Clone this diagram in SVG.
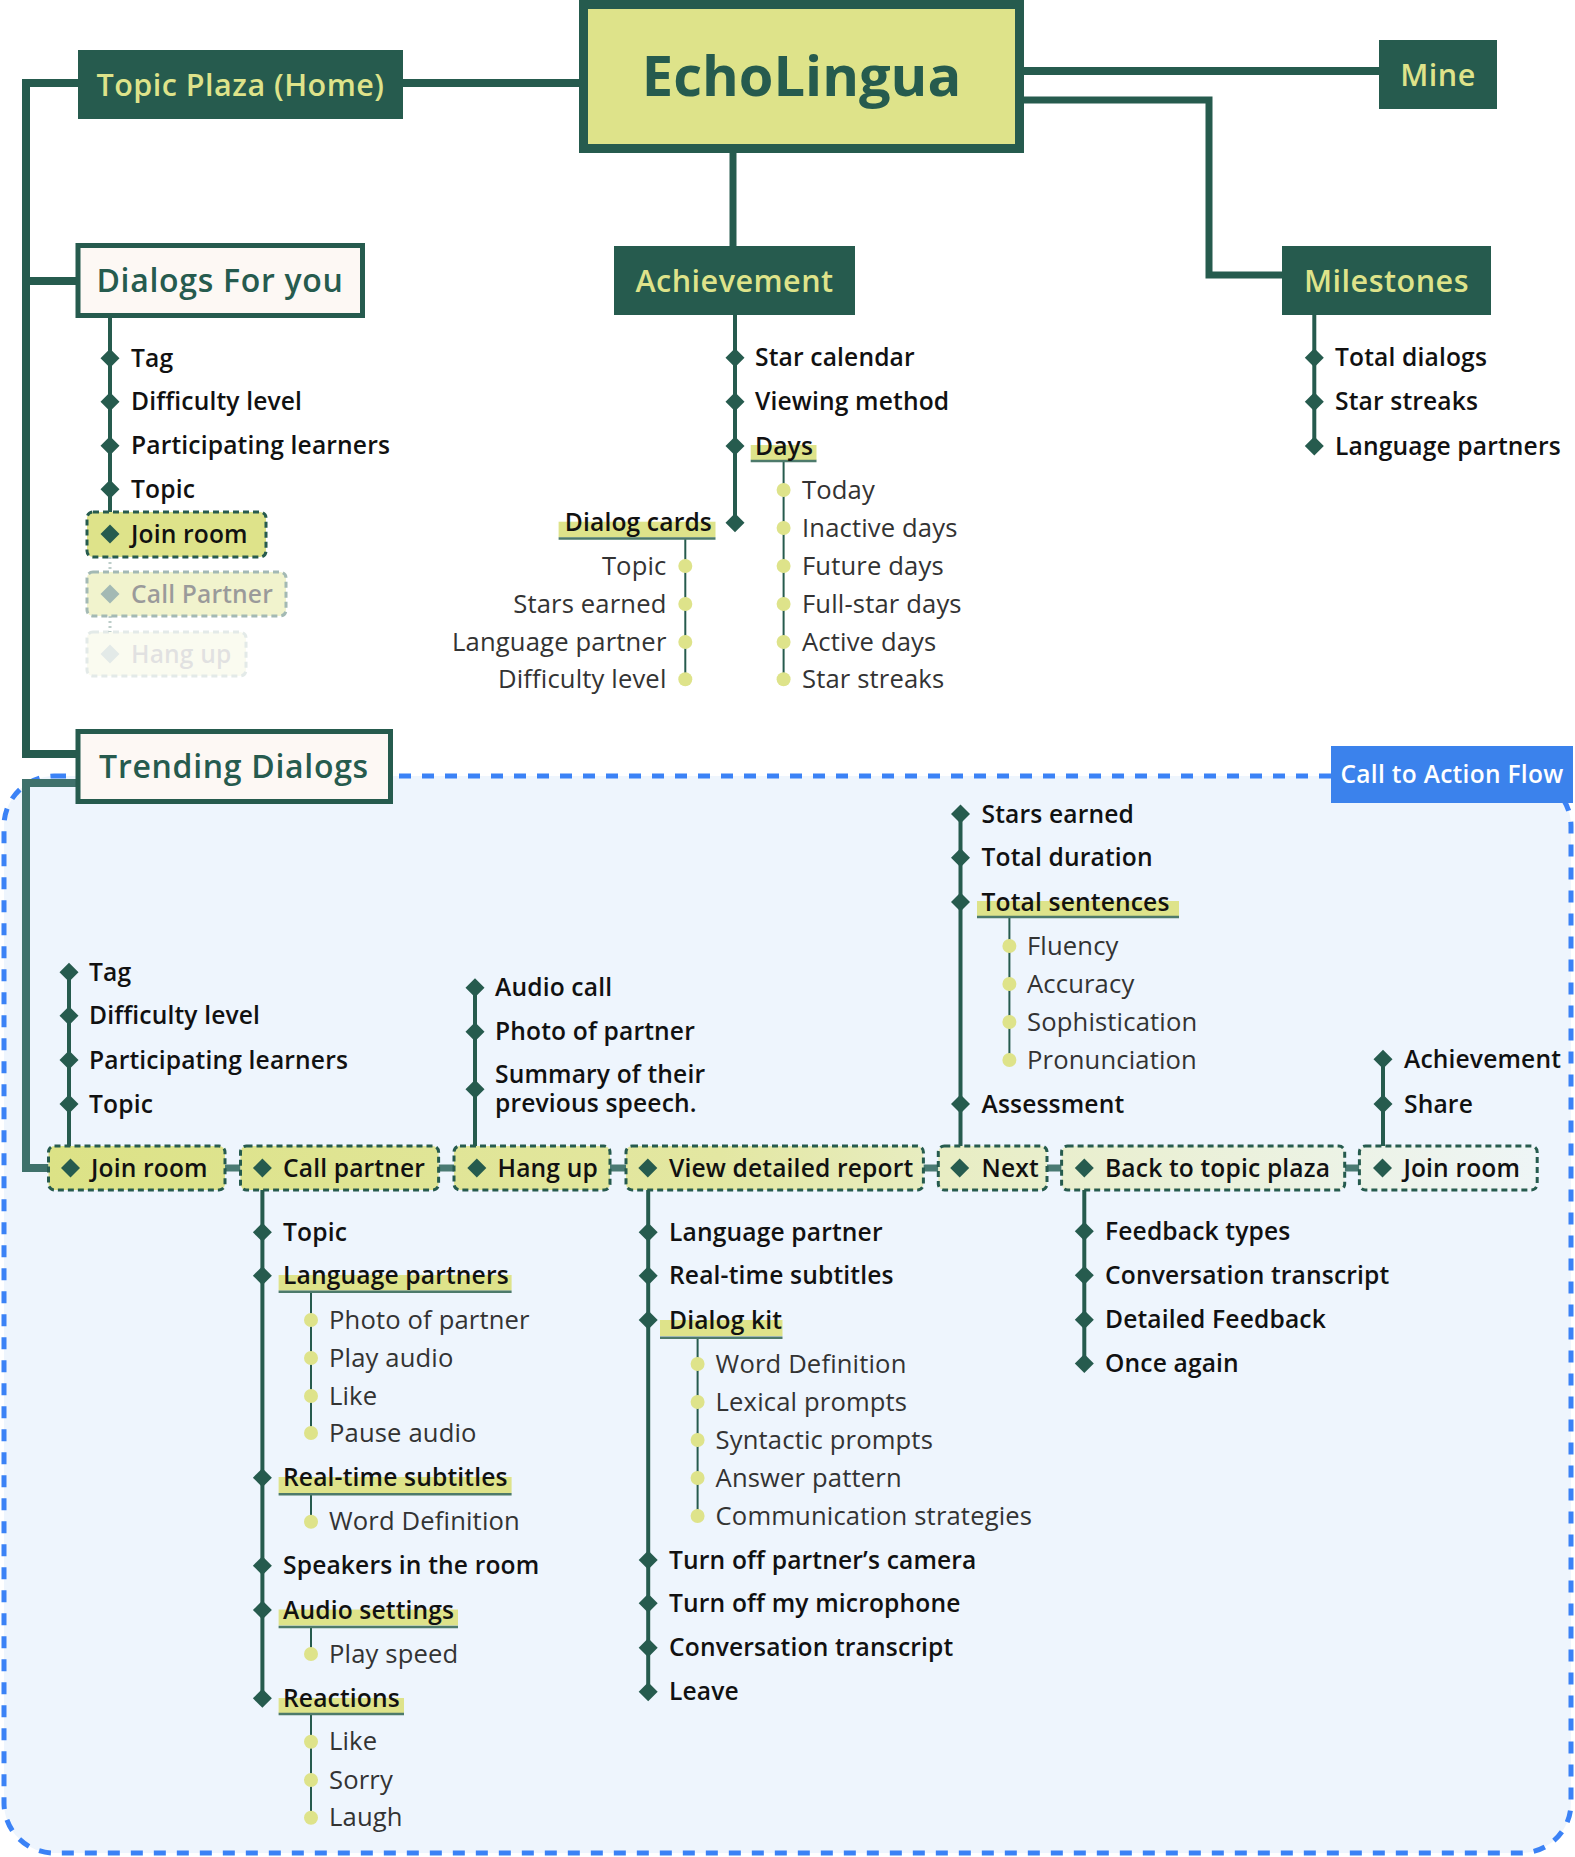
<svg xmlns="http://www.w3.org/2000/svg" width="1575" height="1857" viewBox="0 0 1575 1857">
<defs>
<style>
.b{font-family:"Open Sans","Noto Sans",sans-serif;font-weight:600;font-size:24.6px;letter-spacing:0.15px;fill:#111}
.r{font-family:"Open Sans","Noto Sans",sans-serif;font-weight:400;font-size:25.6px;letter-spacing:0.15px;fill:#333}
.e{text-anchor:end}
.hy{font-family:"Open Sans","Noto Sans",sans-serif;font-weight:600;font-size:30.5px;letter-spacing:0.5px;fill:#DEE38A;text-anchor:middle}
.hg{font-family:"Open Sans","Noto Sans",sans-serif;font-weight:600;font-size:32px;letter-spacing:0.7px;fill:#265B4E;text-anchor:middle}
.ln{stroke:#265B4E;fill:none}
.main{stroke-width:8}
.tr{stroke-width:4}
.sb{stroke-width:2}
.dk{fill:#265B4E}
.cr{fill:#FDF8F4;stroke:#265B4E;stroke-width:5}
.dot{fill:#DEE38A}
.hl{fill:#DEE38A}
.ul{stroke:#4D7A6B;stroke-width:2.5}
.fb{fill:url(#rowg);stroke:#265B4E;stroke-width:3;stroke-dasharray:6 4}
.con{fill:#4A7A73}
</style>
<path id="dm" d="M0,-9.5L9.5,0L0,9.5L-9.5,0Z" fill="#265B4E"/>
<linearGradient id="rowg" gradientUnits="userSpaceOnUse" x1="48" y1="0" x2="1540" y2="0">
<stop offset="0" stop-color="#DCE286"/>
<stop offset="0.45" stop-color="#E3E7A2"/>
<stop offset="0.6" stop-color="#E8EDC3"/>
<stop offset="1" stop-color="#EEF5F6"/>
</linearGradient>
</defs>
<rect width="1575" height="1857" fill="#FFFFFF"/>
<rect id="cta-region" x="4" y="776" width="1567" height="1077" rx="50" fill="#EEF5FD" stroke="#3B82F6" stroke-width="5" stroke-dasharray="12 11"/>

<g id="connectors">
<path class="ln main" d="M78,83 H26 V754 H78"/>
<path class="ln main" d="M26,281 H78"/>
<path class="ln main" d="M403,83 H579"/>
<path class="ln main" d="M1024,71 H1379"/>
<path class="ln" stroke-width="7" d="M1024,100 H1209 V275 H1282"/>
<path class="ln" stroke-width="7" d="M733,153 V246"/>
<path d="M78,783 H26 V1168 H48.5" fill="none" stroke="#3F716B" stroke-width="8"/>
<path class="ln tr" d="M110,318 V534"/>
<path d="M110,557 V572 M110,616 V632" stroke="#265B4E" stroke-width="3" stroke-dasharray="2 3" opacity="0.3"/>
<path class="ln tr" d="M735,315 V522.7"/>
<path class="ln sb" d="M783.6,461 V679.3"/>
<path class="ln sb" d="M685.3,538.7 V679.3"/>
<path class="ln tr" d="M1314.3,315 V446"/>
<path class="ln tr" d="M69,972.3 V1146"/>
<path class="ln tr" d="M475,987.7 V1146"/>
<path class="ln tr" d="M960.5,814 V1146"/>
<path class="ln sb" d="M1009.4,918 V1060"/>
<path class="ln tr" d="M1383,1059.3 V1146"/>
<path class="ln tr" d="M262.4,1190 V1698.3"/>
<path class="ln sb" d="M311,1292 V1433 M311,1494 V1521.7 M311,1627 V1654 M311,1714 V1817.7"/>
<path class="ln tr" d="M648.2,1190 V1691.7"/>
<path class="ln sb" d="M697.6,1337.7 V1516"/>
<path class="ln tr" d="M1084.3,1190 V1363.6"/>
<rect class="con" x="225" y="1164.5" width="15.5" height="7"/>
<rect class="con" x="438.6" y="1164.5" width="15.4" height="7"/>
<rect class="con" x="610" y="1164.5" width="16" height="7"/>
<rect class="con" x="923.4" y="1164.5" width="14.9" height="7"/>
<rect class="con" x="1047" y="1164.5" width="14.6" height="7"/>
<rect class="con" x="1344.7" y="1164.5" width="14.7" height="7"/>
</g>

<g id="echolingua">
<rect x="583.5" y="4.5" width="436" height="144" fill="#DEE38A" stroke="#265B4E" stroke-width="9"/>
<text x="801.5" y="96" font-family="Open Sans, Noto Sans, sans-serif" font-weight="700" font-size="56" fill="#265B4E" text-anchor="middle">EchoLingua</text>
</g>
<g id="topic-plaza">
<rect x="78" y="50" width="325" height="69" class="dk"/>
<text class="hy" x="240.5" y="95.5">Topic Plaza (Home)</text>
</g>
<g id="mine">
<rect x="1379" y="40" width="118" height="69" class="dk"/>
<text class="hy" x="1438" y="85.5">Mine</text>
</g>
<g id="achievement">
<rect x="614" y="246" width="241" height="69" class="dk"/>
<text class="hy" x="734.5" y="291.5">Achievement</text>
</g>
<g id="milestones">
<rect x="1282" y="246" width="209" height="69" class="dk"/>
<text class="hy" x="1386.5" y="291.5">Milestones</text>
</g>
<g id="dialogs-for-you">
<rect class="cr" x="78" y="245.5" width="284.5" height="70"/>
<text class="hg" x="220" y="292">Dialogs For you</text>
</g>
<g id="trending-dialogs">
<rect class="cr" x="78" y="731.5" width="312.5" height="70"/>
<text class="hg" x="234" y="778">Trending Dialogs</text>
</g>
<g id="cta-label">
<rect x="1331" y="746" width="242" height="57" fill="#3B82EC"/>
<text x="1452" y="783" font-family="Open Sans, Noto Sans, sans-serif" font-weight="600" font-size="24.5" letter-spacing="0.3" fill="#FFFFFF" text-anchor="middle">Call to Action Flow</text>
</g>

<g id="dfy-items">
<use href="#dm" x="110" y="358.3"/><text class="b" x="131" y="366.8">Tag</text>
<use href="#dm" x="110" y="401.7"/><text class="b" x="131" y="410.2">Difficulty level</text>
<use href="#dm" x="110" y="445.7"/><text class="b" x="131" y="454.2">Participating learners</text>
<use href="#dm" x="110" y="489.3"/><text class="b" x="131" y="497.8">Topic</text>
</g>
<g id="dfy-join-room">
<rect x="87" y="512" width="179" height="45" rx="6" fill="#DEE38A" stroke="#265B4E" stroke-width="3" stroke-dasharray="6 4"/>
<use href="#dm" x="110" y="534"/><text class="b" x="131" y="542.5">Join room</text>
</g>
<g id="dfy-call-partner" opacity="0.42">
<rect x="87" y="572" width="199" height="44" rx="6" fill="#DEE38A" stroke="#265B4E" stroke-width="3" stroke-dasharray="6 4"/>
<use href="#dm" x="110" y="594"/><text class="b" x="131" y="602.5">Call Partner</text>
</g>
<g id="dfy-hang-up" opacity="0.12">
<rect x="87" y="632" width="159" height="44" rx="6" fill="#DEE38A" stroke="#265B4E" stroke-width="3" stroke-dasharray="6 4"/>
<use href="#dm" x="110" y="654"/><text class="b" x="131" y="662.5">Hang up</text>
</g>

<g id="ach-items">
<use href="#dm" x="735" y="357.7"/><text class="b" x="755" y="366.2">Star calendar</text>
<use href="#dm" x="735" y="401.7"/><text class="b" x="755" y="410.2">Viewing method</text>
<rect class="hl" x="750.7" y="445" width="65.8" height="15"/><line class="ul" x1="750.7" y1="461" x2="816.5" y2="461"/>
<use href="#dm" x="735" y="446"/><text class="b" x="755" y="454.5">Days</text>
<rect class="hl" x="558.6" y="521.7" width="156.9" height="15.6"/><line class="ul" x1="558.6" y1="538.5" x2="715.5" y2="538.5"/>
<use href="#dm" x="735" y="522.7"/><text class="b e" x="712" y="531.2">Dialog cards</text>
</g>
<g id="days-items">
<circle class="dot" cx="783.6" cy="490" r="7"/><text class="r" x="802" y="498.5">Today</text>
<circle class="dot" cx="783.6" cy="528" r="7"/><text class="r" x="802" y="536.5">Inactive days</text>
<circle class="dot" cx="783.6" cy="566" r="7"/><text class="r" x="802" y="574.5">Future days</text>
<circle class="dot" cx="783.6" cy="604" r="7"/><text class="r" x="802" y="612.5">Full-star days</text>
<circle class="dot" cx="783.6" cy="642" r="7"/><text class="r" x="802" y="650.5">Active days</text>
<circle class="dot" cx="783.6" cy="679.3" r="7"/><text class="r" x="802" y="687.8">Star streaks</text>
</g>
<g id="cards-items">
<circle class="dot" cx="685.3" cy="566" r="7"/><text class="r e" x="666.5" y="574.5">Topic</text>
<circle class="dot" cx="685.3" cy="604" r="7"/><text class="r e" x="666.5" y="612.5">Stars earned</text>
<circle class="dot" cx="685.3" cy="642" r="7"/><text class="r e" x="666.5" y="650.5">Language partner</text>
<circle class="dot" cx="685.3" cy="679.3" r="7"/><text class="r e" x="666.5" y="687.8">Difficulty level</text>
</g>
<g id="mile-items">
<use href="#dm" x="1314.3" y="357.7"/><text class="b" x="1335" y="366.2">Total dialogs</text>
<use href="#dm" x="1314.3" y="401.7"/><text class="b" x="1335" y="410.2">Star streaks</text>
<use href="#dm" x="1314.3" y="446"/><text class="b" x="1335" y="454.5">Language partners</text>
</g>

<g id="flow-join-room">
<rect class="fb" x="48.5" y="1146" width="176.5" height="44" rx="6"/>
<use href="#dm" x="70.5" y="1168"/><text class="b" x="91" y="1176.5">Join room</text>
</g>
<g id="flow-call-partner">
<rect class="fb" x="240.5" y="1146" width="198.1" height="44" rx="6"/>
<use href="#dm" x="262.4" y="1168"/><text class="b" x="283" y="1176.5">Call partner</text>
</g>
<g id="flow-hang-up">
<rect class="fb" x="454" y="1146" width="156" height="44" rx="6"/>
<use href="#dm" x="476.8" y="1168"/><text class="b" x="497.5" y="1176.5">Hang up</text>
</g>
<g id="flow-view-report">
<rect class="fb" x="626" y="1146" width="297.4" height="44" rx="6"/>
<use href="#dm" x="647.8" y="1168"/><text class="b" x="669" y="1176.5">View detailed report</text>
</g>
<g id="flow-next">
<rect class="fb" x="938.3" y="1146" width="108.7" height="44" rx="6"/>
<use href="#dm" x="959.7" y="1168"/><text class="b" x="981.5" y="1176.5">Next</text>
</g>
<g id="flow-back">
<rect class="fb" x="1061.6" y="1146" width="283.1" height="44" rx="6"/>
<use href="#dm" x="1084.3" y="1168"/><text class="b" x="1105" y="1176.5">Back to topic plaza</text>
</g>
<g id="flow-join-room-2">
<rect class="fb" x="1359.4" y="1146" width="177.8" height="44" rx="6"/>
<use href="#dm" x="1382.5" y="1168"/><text class="b" x="1403.4" y="1176.5">Join room</text>
</g>

<g id="join-items">
<use href="#dm" x="69" y="972.3"/><text class="b" x="89" y="980.8">Tag</text>
<use href="#dm" x="69" y="1015.7"/><text class="b" x="89" y="1024.2">Difficulty level</text>
<use href="#dm" x="69" y="1060"/><text class="b" x="89" y="1068.5">Participating learners</text>
<use href="#dm" x="69" y="1104"/><text class="b" x="89" y="1112.5">Topic</text>
</g>
<g id="hang-items">
<use href="#dm" x="475" y="987.7"/><text class="b" x="495" y="996.2">Audio call</text>
<use href="#dm" x="475" y="1031.7"/><text class="b" x="495" y="1040.2">Photo of partner</text>
<use href="#dm" x="475" y="1089.3"/><text class="b" x="495" y="1083">Summary of their</text><text class="b" x="495" y="1112">previous speech.</text>
</g>
<g id="next-items">
<use href="#dm" x="960.5" y="814"/><text class="b" x="981.5" y="822.5">Stars earned</text>
<use href="#dm" x="960.5" y="857.7"/><text class="b" x="981.5" y="866.2">Total duration</text>
<rect class="hl" x="977" y="901" width="202" height="15"/><line class="ul" x1="977" y1="917" x2="1179" y2="917"/>
<use href="#dm" x="960.5" y="902"/><text class="b" x="981.5" y="910.5">Total sentences</text>
<circle class="dot" cx="1009.4" cy="946" r="7"/><text class="r" x="1027" y="954.5">Fluency</text>
<circle class="dot" cx="1009.4" cy="984" r="7"/><text class="r" x="1027" y="992.5">Accuracy</text>
<circle class="dot" cx="1009.4" cy="1022" r="7"/><text class="r" x="1027" y="1030.5">Sophistication</text>
<circle class="dot" cx="1009.4" cy="1060" r="7"/><text class="r" x="1027" y="1068.5">Pronunciation</text>
<use href="#dm" x="960.5" y="1104"/><text class="b" x="981.5" y="1112.5">Assessment</text>
</g>
<g id="join2-items">
<use href="#dm" x="1383" y="1059.3"/><text class="b" x="1404" y="1067.8">Achievement</text>
<use href="#dm" x="1383" y="1104"/><text class="b" x="1404" y="1112.5">Share</text>
</g>

<g id="call-items">
<use href="#dm" x="262.4" y="1232.3"/><text class="b" x="283" y="1240.8">Topic</text>
<rect class="hl" x="278.6" y="1275" width="233" height="15.5"/><line class="ul" x1="278.6" y1="1291.7" x2="511.6" y2="1291.7"/>
<use href="#dm" x="262.4" y="1275.7"/><text class="b" x="283" y="1284.2">Language partners</text>
<circle class="dot" cx="311" cy="1320" r="7"/><text class="r" x="329" y="1328.5">Photo of partner</text>
<circle class="dot" cx="311" cy="1358" r="7"/><text class="r" x="329" y="1366.5">Play audio</text>
<circle class="dot" cx="311" cy="1396" r="7"/><text class="r" x="329" y="1404.5">Like</text>
<circle class="dot" cx="311" cy="1433" r="7"/><text class="r" x="329" y="1441.5">Pause audio</text>
<rect class="hl" x="278.6" y="1477" width="233" height="16"/><line class="ul" x1="278.6" y1="1494.3" x2="511.6" y2="1494.3"/>
<use href="#dm" x="262.4" y="1477.7"/><text class="b" x="283" y="1486.2">Real-time subtitles</text>
<circle class="dot" cx="311" cy="1521.7" r="7"/><text class="r" x="329" y="1530.2">Word Definition</text>
<use href="#dm" x="262.4" y="1565.7"/><text class="b" x="283" y="1574.2">Speakers in the room</text>
<rect class="hl" x="278.6" y="1609.5" width="179.4" height="16"/><line class="ul" x1="278.6" y1="1627" x2="458" y2="1627"/>
<use href="#dm" x="262.4" y="1610"/><text class="b" x="283" y="1618.5">Audio settings</text>
<circle class="dot" cx="311" cy="1654" r="7"/><text class="r" x="329" y="1662.5">Play speed</text>
<rect class="hl" x="278.6" y="1698" width="125.4" height="15"/><line class="ul" x1="278.6" y1="1714" x2="404" y2="1714"/>
<use href="#dm" x="262.4" y="1698.3"/><text class="b" x="283" y="1706.8">Reactions</text>
<circle class="dot" cx="311" cy="1741.7" r="7"/><text class="r" x="329" y="1750.2">Like</text>
<circle class="dot" cx="311" cy="1780" r="7"/><text class="r" x="329" y="1788.5">Sorry</text>
<circle class="dot" cx="311" cy="1817.7" r="7"/><text class="r" x="329" y="1826.2">Laugh</text>
</g>
<g id="view-items">
<use href="#dm" x="648.2" y="1232.3"/><text class="b" x="669" y="1240.8">Language partner</text>
<use href="#dm" x="648.2" y="1275.7"/><text class="b" x="669" y="1284.2">Real-time subtitles</text>
<rect class="hl" x="660" y="1320" width="122.5" height="16"/><line class="ul" x1="660" y1="1337.7" x2="782.5" y2="1337.7"/>
<use href="#dm" x="648.2" y="1320"/><text class="b" x="669" y="1328.5">Dialog kit</text>
<circle class="dot" cx="697.6" cy="1364" r="7"/><text class="r" x="715.6" y="1372.5">Word Definition</text>
<circle class="dot" cx="697.6" cy="1402" r="7"/><text class="r" x="715.6" y="1410.5">Lexical prompts</text>
<circle class="dot" cx="697.6" cy="1440" r="7"/><text class="r" x="715.6" y="1448.5">Syntactic prompts</text>
<circle class="dot" cx="697.6" cy="1478" r="7"/><text class="r" x="715.6" y="1486.5">Answer pattern</text>
<circle class="dot" cx="697.6" cy="1516" r="7"/><text class="r" x="715.6" y="1524.5">Communication strategies</text>
<use href="#dm" x="648.2" y="1560"/><text class="b" x="669" y="1568.5">Turn off partner’s camera</text>
<use href="#dm" x="648.2" y="1603.3"/><text class="b" x="669" y="1611.8">Turn off my microphone</text>
<use href="#dm" x="648.2" y="1647.7"/><text class="b" x="669" y="1656.2">Conversation transcript</text>
<use href="#dm" x="648.2" y="1691.7"/><text class="b" x="669" y="1700.2">Leave</text>
</g>
<g id="back-items">
<use href="#dm" x="1084.3" y="1231.3"/><text class="b" x="1105" y="1239.8">Feedback types</text>
<use href="#dm" x="1084.3" y="1275.3"/><text class="b" x="1105" y="1283.8">Conversation transcript</text>
<use href="#dm" x="1084.3" y="1319.7"/><text class="b" x="1105" y="1328.2">Detailed Feedback</text>
<use href="#dm" x="1084.3" y="1363.6"/><text class="b" x="1105" y="1372.1">Once again</text>
</g>
</svg>
